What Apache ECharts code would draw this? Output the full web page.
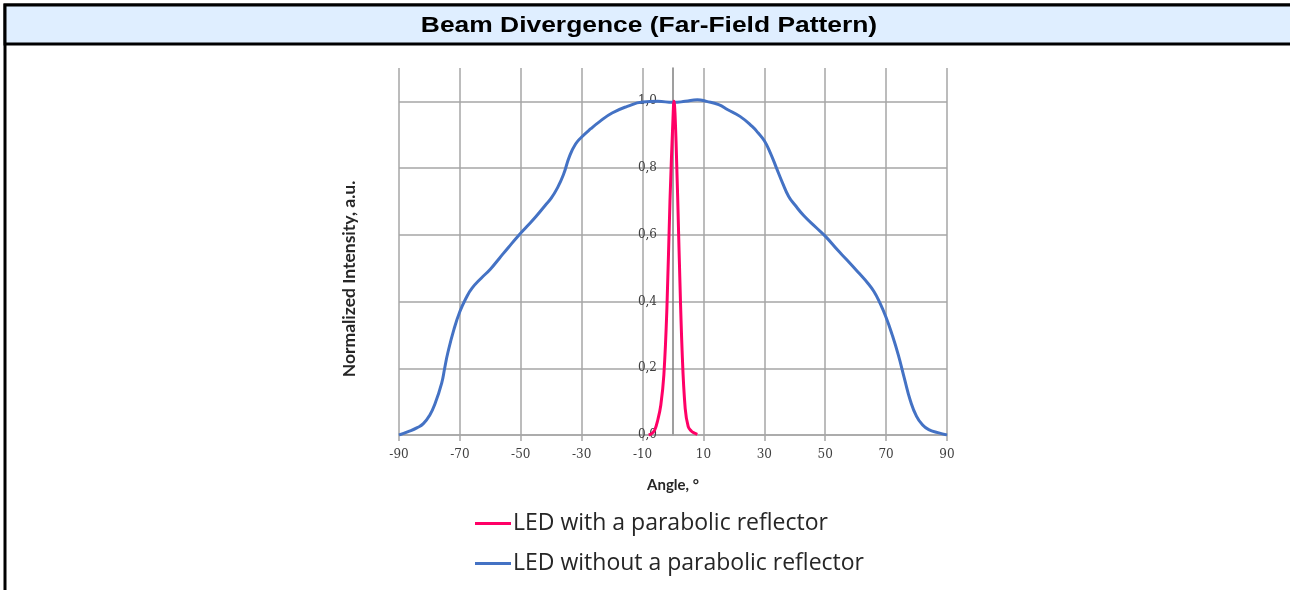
<!DOCTYPE html>
<html>
<head>
<meta charset="utf-8">
<script src="https://cdn.jsdelivr.net/npm/echarts@6/dist/echarts.min.js"></script>
<style>
html,body{margin:0;padding:0;background:#fff;}
#chart{width:1290px;height:590px;}
</style>
</head>
<body>
<div id="chart"></div>
<script>
// ---- Data ----
const titleText = 'Beam Divergence (Far-Field Pattern)';
const yAxisTitle = 'Normalized Intensity, a.u.';
const xAxisTitle = 'Angle, °';
const seriesNames = ['LED with a parabolic reflector', 'LED without a parabolic reflector'];

const blueAngles = [-90,-87,-84,-82,-80,-78,-76,-75,-74,-72,-70,-68,-66,-63,-60,-57,-54,-51,-48,-45,-42,-40,-38,-36,-34,-32,-30,-27,-24,-20,-15,-10,-5,0,4,8,11,15,18,22,26,28,30,32,34,36,38,40,43,47,50,54,57,61,64,66,68,70,72,74,76,78,80,82,84,87,90];
const blueValues = [0.0,0.01,0.022,0.034,0.058,0.098,0.155,0.2,0.245,0.315,0.37,0.41,0.44,0.47,0.497,0.53,0.563,0.595,0.625,0.655,0.688,0.71,0.74,0.78,0.835,0.872,0.893,0.918,0.94,0.965,0.985,0.998,1.0,0.997,1.0,1.005,1.0,0.99,0.975,0.955,0.925,0.905,0.882,0.845,0.80,0.755,0.715,0.69,0.657,0.622,0.596,0.555,0.526,0.486,0.455,0.43,0.395,0.352,0.30,0.24,0.17,0.102,0.056,0.03,0.016,0.007,0.0];

const redAngles = [-8,-7,-6,-5,-4,-3,-2,-1,0,0.3,1,2,3,4,5,6,7,8];
const redValues = [0.0,0.004,0.015,0.045,0.09,0.18,0.38,0.7,0.95,1.0,0.88,0.55,0.25,0.08,0.025,0.012,0.006,0.002];

const xTicks = [-90,-70,-50,-30,-10,10,30,50,70,90];

const pair = (xs, ys) => xs.map((x, i) => [x, ys[i]]);

const chart = echarts.init(document.getElementById('chart'), null, {renderer: 'canvas'});
const gridColor = '#a6a6a6';
const option = {
  backgroundColor: '#ffffff',
  animation: false,
  graphic: [
    {type: 'rect', z: 0, shape: {x: 5, y: 5, width: 1300, height: 600}, style: {fill: 'none', stroke: '#000', lineWidth: 3}},
    {type: 'rect', z: 1, shape: {x: 5, y: 5, width: 1300, height: 39}, style: {fill: '#dfeeff', stroke: '#000', lineWidth: 3}},
    {type: 'text', z: 2, x: 649, y: 26, scaleX: 1.2, style: {text: titleText, font: 'bold 22px "Liberation Sans", Arial, sans-serif', fill: '#000', align: 'center', verticalAlign: 'middle'}},
    {type: 'text', z: 2, x: 349, y: 279, rotation: Math.PI / 2, style: {text: yAxisTitle, font: 'bold 17.5px Lato, sans-serif', fill: '#262626', align: 'center', verticalAlign: 'middle'}}
  ],
  grid: {left: 399, right: 343, top: 68, bottom: 155, containLabel: false},
  legend: {
    orient: 'vertical', left: 475, top: 512, itemGap: 17, padding: 0,
    itemWidth: 36, itemHeight: 3, icon: 'rect', itemStyle: {borderWidth: 0},
    textStyle: {fontFamily: '"Open Sans", Lato, sans-serif', fontSize: 23, color: '#262626', padding: [0, 0, 0, -3]},
    data: seriesNames
  },
  xAxis: {
    type: 'value', min: -90, max: 90, interval: 20,
    name: xAxisTitle, nameLocation: 'middle', nameGap: 43,
    nameTextStyle: {fontFamily: 'Lato, sans-serif', fontWeight: 'bold', fontSize: 15, color: '#262626'},
    axisLine: {onZero: false, lineStyle: {color: gridColor, width: 1.5}},
    axisTick: {show: true, length: 6, lineStyle: {color: gridColor, width: 1.5}},
    axisLabel: {margin: 14, fontFamily: '"DejaVu Serif", serif', fontSize: 12, color: '#404040',
      customValues: xTicks},
    splitLine: {show: true, lineStyle: {color: gridColor, width: 1.5}}
  },
  yAxis: {
    type: 'value', min: 0, max: 1.1, interval: 0.2,
    axisLine: {show: true, onZero: true, lineStyle: {color: '#7f7f7f', width: 1.5}},
    axisTick: {show: false},
    axisLabel: {margin: -258, fontFamily: '"DejaVu Serif", serif', fontSize: 12, color: '#404040',
      showMaxLabel: false, align: 'right',
      formatter: v => (Math.abs(v - 1.1) < 1e-6 ? '' : v.toFixed(1).replace('.', ','))},
    splitLine: {show: true, showMaxLine: false, lineStyle: {color: gridColor, width: 1.5}}
  },
  series: [
    {
      name: seriesNames[1], type: 'line', data: pair(blueAngles, blueValues),
      smooth: 0.5, showSymbol: false, symbol: 'none',
      lineStyle: {color: '#4472c4', width: 3}, itemStyle: {color: '#4472c4'}, z: 3
    },
    {
      name: seriesNames[0], type: 'line', data: pair(redAngles, redValues),
      smooth: 0.4, showSymbol: false, symbol: 'none',
      lineStyle: {color: '#ff0066', width: 3}, itemStyle: {color: '#ff0066'}, z: 4
    }
  ]
};
chart.setOption(option);
</script>
</body>
</html>
